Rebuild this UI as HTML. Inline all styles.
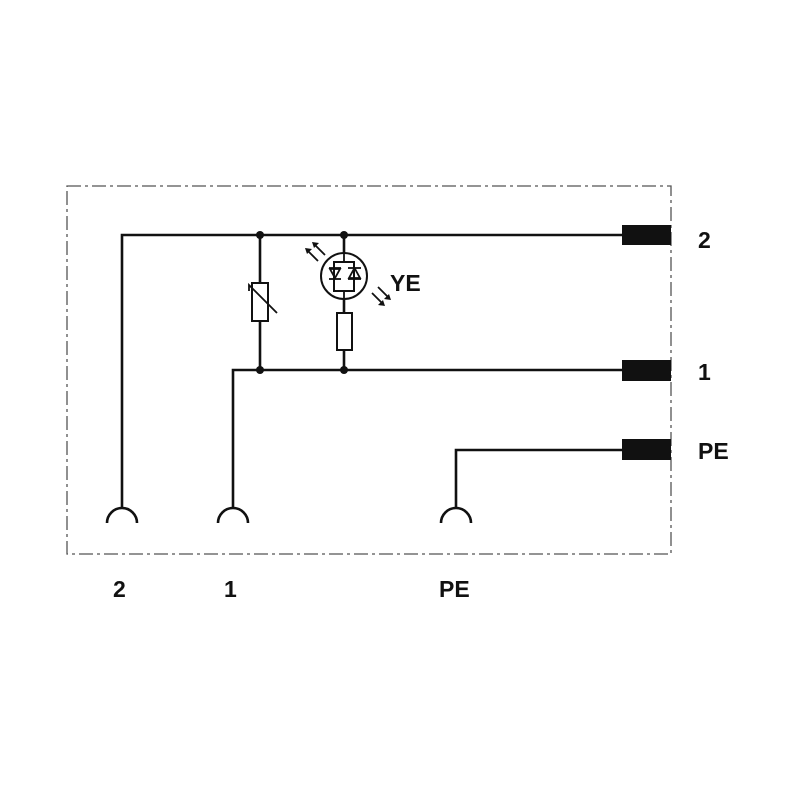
<!DOCTYPE html>
<html><head><style>body{margin:0;background:#fff}</style></head><body>
<svg width="800" height="800" viewBox="0 0 800 800" xmlns="http://www.w3.org/2000/svg">
<rect x="67" y="186" width="604" height="368" fill="none" stroke="#555" stroke-width="1.3" stroke-dasharray="14,4,3,4"/>
<g stroke="#111" stroke-width="2.6" fill="none">
<polyline points="122,507 122,235 622,235"/>
<polyline points="233,507 233,370 622,370"/>
<polyline points="456,507 456,450 622,450"/>
<line x1="260" y1="235" x2="260" y2="370"/>
<line x1="344" y1="235" x2="344" y2="370"/>
<path d="M107,523 A15,15 0 0 1 137,523"/>
<path d="M218,523 A15,15 0 0 1 248,523"/>
<path d="M441,523 A15,15 0 0 1 471,523"/>
</g>
<g stroke="#111" stroke-width="2" fill="#fff">
<rect x="252" y="283" width="16" height="38"/>
<rect x="337" y="313" width="15" height="37"/>
<circle cx="344" cy="276" r="23"/>
<rect x="334" y="262" width="20" height="29"/>
</g>
<g stroke="#111" stroke-width="1.8" fill="none">
<polyline points="249,291 249,285 277,313"/>
<line x1="344" y1="253" x2="344" y2="262"/>
<line x1="344" y1="291" x2="344" y2="299"/>
<line x1="329" y1="268" x2="341" y2="268"/><polygon points="330,269 340,269 335,278"/><line x1="329" y1="279" x2="341" y2="279"/>
<line x1="348" y1="279" x2="361" y2="279"/><polygon points="349,278 360,278 354.5,268"/><line x1="348" y1="268" x2="361" y2="268"/>
<line x1="308" y1="251" x2="318" y2="261"/><line x1="315" y1="245" x2="325" y2="255"/>
<line x1="372" y1="293" x2="382" y2="303"/><line x1="378" y1="287" x2="388" y2="297"/>
</g>
<g fill="#111">
<circle cx="260" cy="235" r="4"/><circle cx="344" cy="235" r="4"/>
<circle cx="260" cy="370" r="4"/><circle cx="344" cy="370" r="4"/>
<polygon points="305,248 312,249 307,254"/><polygon points="312,242 319,243 314,248"/>
<polygon points="385,306 378,305 383,300"/><polygon points="391,300 384,299 389,294"/>
<rect x="622" y="225" width="49" height="20"/>
<rect x="622" y="360" width="49" height="21"/>
<rect x="622" y="439" width="49" height="21"/>
</g>
<g font-family="Liberation Sans, sans-serif" font-weight="bold" font-size="23" fill="#111">
<text x="698" y="248">2</text>
<text x="698" y="380">1</text>
<text x="698" y="459">PE</text>
<text x="390" y="291">YE</text>
<text x="113" y="597">2</text>
<text x="224" y="597">1</text>
<text x="439" y="597">PE</text>
</g>
</svg>
</body></html>
